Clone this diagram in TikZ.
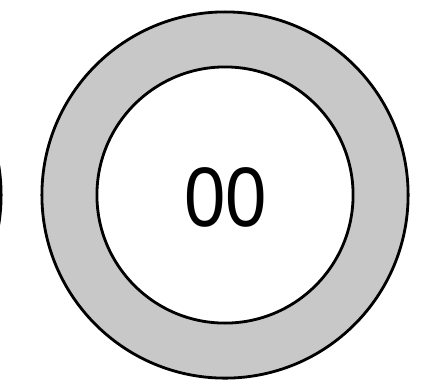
\documentclass[tikz,border=0pt]{standalone}
\usepackage{fontspec}
\setmainfont{Liberation Sans}
\newfontfamily\countfont[FakeStretch=0.88]{Liberation Sans}
\definecolor{ringgray}{RGB}{200,200,200}
\begin{document}
\begin{tikzpicture}[
  x=0.01cm, y=-0.01cm,
  ring/.style={circle, draw, line width=0.8pt, fill=ringgray, minimum size=3.66cm, inner sep=0pt},
  hole/.style={circle, draw, line width=0.8pt, fill=white, minimum size=2.56cm, inner sep=0pt},
  label/.style={font=\countfont\fontsize{24}{28}\selectfont, inner sep=0pt}
]
  \useasboundingbox (0,0) rectangle (443,390);
  \clip (0,0) rectangle (443,390);

  % neighbour just cut off at the left edge
  \node[circle, draw, line width=0.8pt, minimum size=3.66cm, inner sep=0pt] (left) at (-182,195) {};

  \node[ring]  (outer) at (225,195) {};
  \node[hole]  (inner) at (225,195) {};
  \node[label] (count) at (226,197) {00};
\end{tikzpicture}
\end{document}
